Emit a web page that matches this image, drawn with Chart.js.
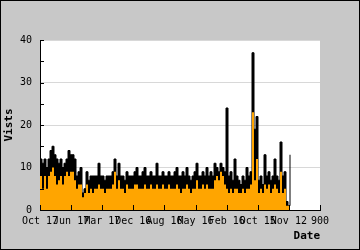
<!DOCTYPE html>
<html>
<head>
<meta charset="utf-8">
<script src="https://cdn.jsdelivr.net/npm/chart.js@4/dist/chart.umd.min.js"></script>
<style>
  html, body { margin: 0; padding: 0; background: #c8c8c8; }
  #wrap { width: 360px; height: 250px; }
</style>
</head>
<body>
<div id="wrap"><canvas id="visitsChart" width="360" height="250"></canvas></div>
<script>
// tick labels on the date axis (newest on the left)
const dateLabels = ['Oct 17', 'Jun 17', 'Mar 17', 'Dec 16', 'Aug 16', 'May 16', 'Feb 16', 'Oct 15', 'Nov 12', '900'];

// visits per sample (black series)
const visits = [
  12, 11, 12, 10, 12, 14, 15, 13, 12, 11, 12, 10, 11, 12, 14, 13, 13, 12, 8, 9,
  10, 4, 5, 9, 7, 8, 8, 8, 8, 11, 8, 8, 7, 8, 8, 8, 9, 12, 8, 11,
  8, 8, 7, 9, 8, 8, 8, 9, 10, 8, 8, 9, 10, 8, 8, 9, 8, 8, 11, 8,
  8, 9, 8, 8, 9, 8, 8, 9, 10, 8, 8, 9, 8, 10, 8, 7, 8, 9, 11, 8,
  8, 9, 8, 10, 8, 9, 8, 11, 10, 9, 11, 10, 9, 24, 8, 9, 7, 12, 8, 7,
  6, 8, 7, 10, 8, 9, 37, 19, 22, 7, 8, 6, 13, 8, 9, 7, 8, 12, 8, 7,
  16, 8, 9, 2, 1, 13
];

// unique visitors per sample (orange series)
const visitors = [
  8, 5, 8, 5, 8, 9, 10, 8, 6, 7, 8, 6, 8, 9, 8, 9, 9, 7, 5, 6,
  6, 3, 4, 6, 4, 5, 4, 5, 5, 6, 5, 5, 4, 5, 5, 5, 6, 9, 5, 7,
  5, 5, 4, 6, 5, 5, 5, 6, 6, 5, 5, 5, 6, 5, 5, 6, 5, 5, 6, 5,
  5, 6, 5, 5, 6, 5, 5, 5, 6, 5, 4, 5, 5, 6, 5, 4, 5, 5, 7, 5,
  5, 6, 5, 6, 5, 5, 5, 7, 8, 7, 9, 8, 6, 5, 4, 5, 4, 5, 5, 4,
  4, 5, 4, 5, 5, 6, 23, 7, 12, 4, 5, 4, 6, 5, 6, 4, 5, 6, 5, 4,
  9, 4, 5, 1, 1, 0
];

const xMax = 140;   // sample slots across the whole axis
const yMax = 40;

function toPoints(values) {
  return values.map((v, i) => ({ x: i, y: v }));
}

// grey page, black frame, white plot area, short inward tick marks
const frame = {
  id: 'frame',
  beforeDraw(chart) {
    const ctx = chart.ctx;
    const a = chart.chartArea;
    ctx.save();
    ctx.fillStyle = '#c8c8c8';
    ctx.fillRect(0, 0, chart.width, chart.height);
    ctx.strokeStyle = '#000';
    ctx.lineWidth = 1;
    ctx.strokeRect(0.5, 0.5, chart.width - 1, chart.height - 1);
    ctx.fillStyle = '#fff';
    ctx.fillRect(a.left, a.top, a.right - a.left, a.bottom - a.top);
    ctx.restore();
  },
  afterDraw(chart) {
    const ctx = chart.ctx;
    const a = chart.chartArea;
    const xs = chart.scales.x;
    const ys = chart.scales.y;
    ctx.save();
    ctx.strokeStyle = '#000';
    ctx.lineWidth = 1;
    ctx.beginPath();
    for (let v = 0; v <= yMax; v += 5) {
      const y = Math.round(ys.getPixelForValue(v)) + 0.5;
      ctx.moveTo(a.left, y);
      ctx.lineTo(a.left + 4, y);
    }
    xs.ticks.forEach(t => {
      const x = Math.round(xs.getPixelForValue(t.value)) + 0.5;
      ctx.moveTo(x, a.bottom);
      ctx.lineTo(x, a.bottom - 5);
    });
    ctx.stroke();
    ctx.restore();
  }
};

const monoFont = { family: "'DejaVu Sans Mono', monospace", size: 10 };
const titleFont = { family: "'DejaVu Sans Mono', monospace", size: 11, weight: 'bold' };

new Chart(document.getElementById('visitsChart'), {
  type: 'line',
  data: {
    datasets: [
      {
        label: 'Visitors',
        data: toPoints(visitors),
        stepped: 'before',
        fill: 'origin',
        backgroundColor: '#ffa500',
        borderColor: '#ffa500',
        borderWidth: 0,
        pointRadius: 0
      },
      {
        label: 'Visits',
        data: toPoints(visits),
        stepped: 'before',
        fill: 'origin',
        backgroundColor: '#000',
        borderColor: '#000',
        borderWidth: 1,
        pointRadius: 0
      }
    ]
  },
  options: {
    responsive: false,
    animation: false,
    layout: { padding: { left: 0, right: 40, top: 40, bottom: 0 } },
    plugins: {
      legend: { display: false },
      tooltip: { enabled: false }
    },
    scales: {
      x: {
        type: 'linear',
        min: 0,
        max: xMax,
        afterBuildTicks(scale) {
          scale.ticks = dateLabels.map((_, k) => ({ value: k * xMax / (dateLabels.length - 1) }));
        },
        afterFit(scale) { scale.height = 40; },
        grid: { display: false, drawTicks: false },
        border: { display: true, color: '#000', width: 1 },
        ticks: {
          autoSkip: false,
          maxRotation: 0,
          padding: 5,
          color: '#000',
          font: monoFont,
          callback: (value, index) => dateLabels[index]
        },
        title: {
          display: true,
          text: 'Date',
          align: 'end',
          color: '#000',
          font: titleFont,
          padding: { top: 0, bottom: 7 }
        }
      },
      y: {
        min: 0,
        max: yMax,
        afterFit(scale) { scale.width = 40; },
        grid: { color: '#d8d8d8', drawTicks: false },
        border: { display: true, color: '#000', width: 1 },
        ticks: {
          stepSize: 10,
          padding: 8,
          color: '#000',
          font: monoFont
        },
        title: {
          display: true,
          text: 'Vists',
          color: '#000',
          font: titleFont,
          padding: { top: 3, bottom: 0 }
        }
      }
    }
  },
  plugins: [frame]
});
</script>
</body>
</html>
